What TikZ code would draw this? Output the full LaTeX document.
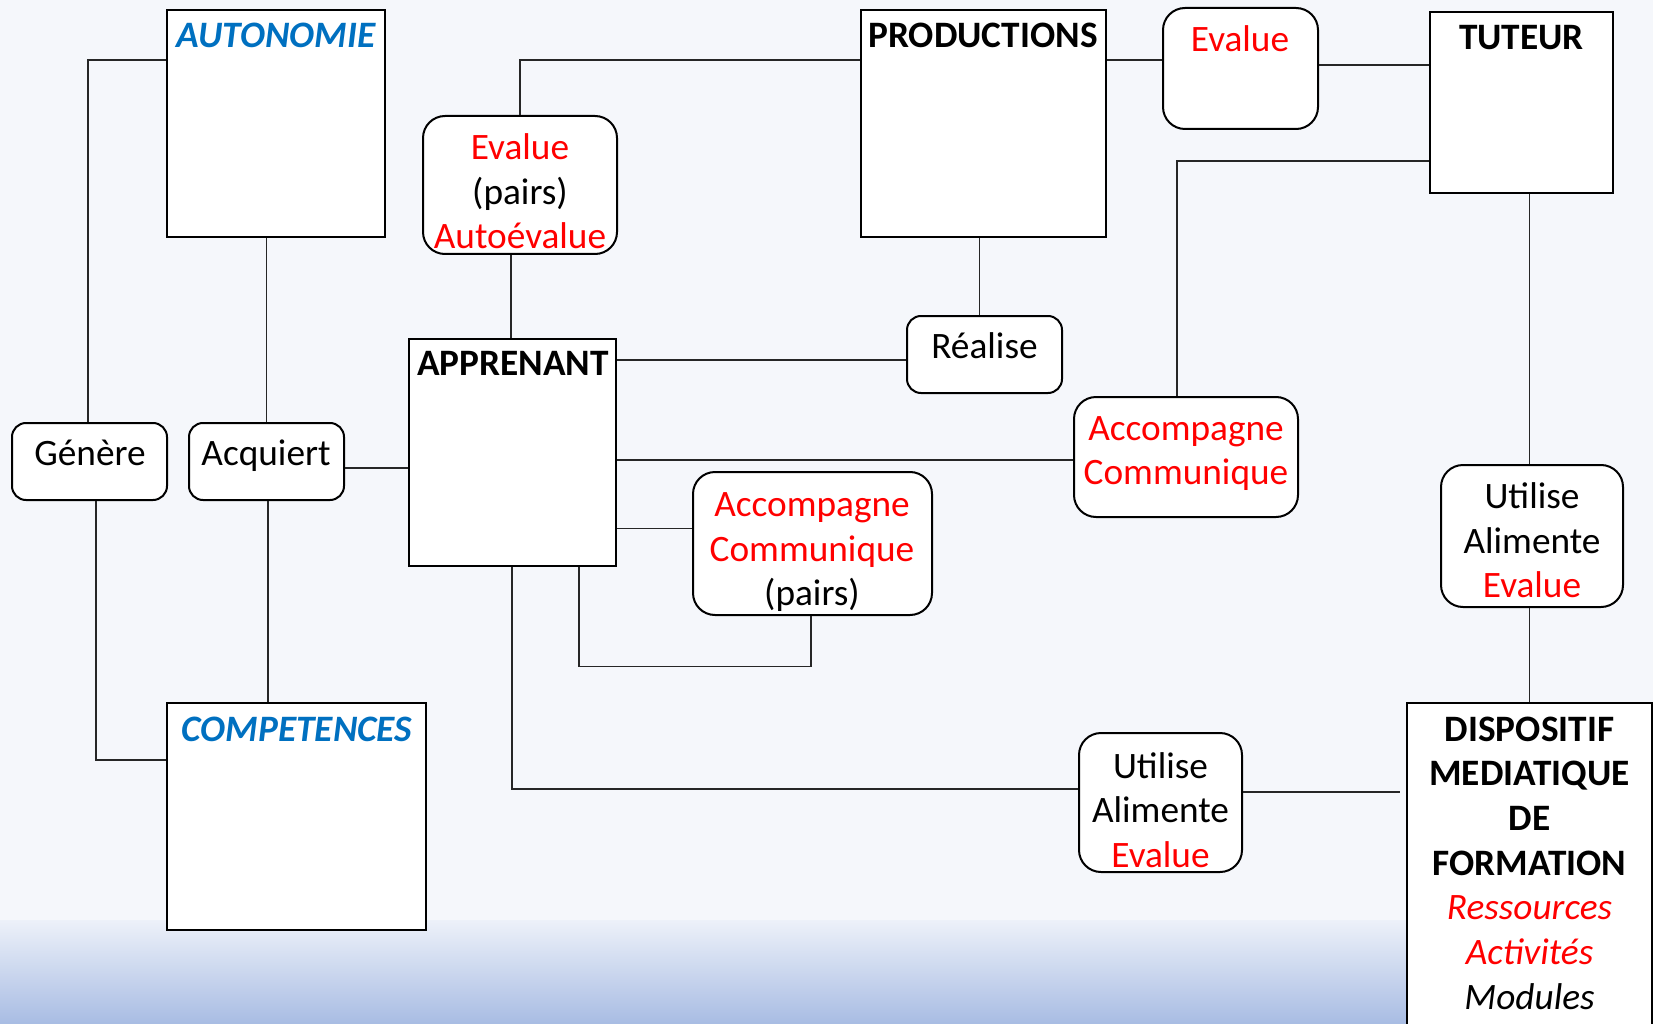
\documentclass[tikz,border=0pt]{standalone}
\usepackage{fontspec}
\setmainfont{Carlito}
\definecolor{bg}{HTML}{F5F7FB}
\definecolor{gtop}{HTML}{EDF1F9}
\definecolor{gbot}{HTML}{A8BCE3}
\definecolor{ablue}{HTML}{0070C0}
\definecolor{ared}{HTML}{FF0000}
\begin{document}
\begin{tikzpicture}[x=1pt,y=-1pt,
  ent/.style={draw, line width=2.5pt, fill=white, inner sep=0pt, rectangle},
  rel/.style={draw, line width=2pt, fill=white, inner sep=0pt, rectangle, rounded corners=14pt},
  relbig/.style={rel, rounded corners=22pt},
  conn/.style={draw=black!85, line width=1.4pt},
  txt/.style={anchor=base, inner sep=0pt, font=\fontsize{37.3}{44.5}\selectfont},
  rtxt/.style={txt, text=ared},
  ttl/.style={anchor=base, inner sep=0pt, font=\fontsize{37.3}{44.5}\selectfont\bfseries},
  bttl/.style={anchor=base, inner sep=0pt, text=ablue, font=\fontsize{37.3}{44.5}\selectfont\bfseries\itshape},
  itr/.style={anchor=base, inner sep=0pt, text=ared, font=\fontsize{37.3}{44.5}\selectfont\itshape},
  itk/.style={anchor=base, inner sep=0pt, font=\fontsize{37.3}{44.5}\selectfont\itshape}
]
\useasboundingbox (0,0) rectangle (1653,1024);
\fill[bg] (0,0) rectangle (1653,1024);
\shade[top color=gtop, bottom color=gbot] (0,920) rectangle (1653,1024);
\clip (0,0) rectangle (1653,1024);

% entity boxes
\node[ent, minimum width=218pt, minimum height=227pt] (auto) at (276,123.5) {};
\node[ent, minimum width=245pt, minimum height=227pt] (prod) at (983.5,123.5) {};
\node[ent, minimum width=183pt, minimum height=181pt] (tut) at (1521.5,102.5) {};
\node[ent, minimum width=207pt, minimum height=227pt] (appr) at (512.5,452.5) {};
\node[ent, minimum width=259pt, minimum height=227pt] (comp) at (296.5,816.5) {};
\node[ent, minimum width=245pt, minimum height=357pt] (disp) at (1529.5,881.5) {};

% relation boxes
\node[relbig, minimum width=194pt, minimum height=138pt] (evp) at (520,185) {};
\node[relbig, minimum width=155pt, minimum height=121pt] (evt) at (1240.5,68.5) {};
\node[rel, minimum width=155pt, minimum height=77pt] (real) at (984.5,354.5) {};
\node[rel, minimum width=155pt, minimum height=77pt] (gen) at (89.5,461.5) {};
\node[rel, minimum width=155pt, minimum height=77pt] (acq) at (266.5,461.5) {};
\node[relbig, minimum width=224pt, minimum height=120pt] (acc1) at (1186,457) {};
\node[relbig, minimum width=239pt, minimum height=143pt] (acc2) at (812.5,543.5) {};
\node[relbig, minimum width=182pt, minimum height=142pt] (uti1) at (1532,536) {};
\node[relbig, minimum width=163pt, minimum height=139pt] (uti2) at (1160.5,802.5) {};

% helper coordinates
\coordinate (c1) at (88,60);
\coordinate (c3) at (0,468);
\coordinate (c4) at (96,760);
\coordinate (c5) at (268,0);
\coordinate (c7) at (511,0);
\coordinate (c9) at (0,65);
\coordinate (c10) at (1177,161);
\coordinate (c11) at (979.5,0);
\coordinate (c12) at (0,360);
\coordinate (c13) at (0,460);
\coordinate (c14) at (0,528.5);
\coordinate (c15) at (579,666.5);
\coordinate (c15b) at (811,666.5);
\coordinate (c16) at (512,789);
\coordinate (e17) at (1400,792);
\coordinate (c18) at (1529.5,0);

% connectors
\draw[conn] (auto.west |- c1) -| (gen.north -| c1);
\draw[conn] (acq.north |- auto.south) -- (acq.north);
\draw[conn] (acq.east |- c3) -- (appr.west |- c3);
\draw[conn] (gen.south -| c4) |- (comp.west |- c4);
\draw[conn] (acq.south -| c5) -- (comp.north -| c5);
\draw[conn] (evp.north) |- (prod.west |- c1);
\draw[conn] (evp.south -| c7) -- (appr.north -| c7);
\draw[conn] (prod.east |- c1) -- (evt.west |- c1);
\draw[conn] (evt.east |- c9) -- (tut.west |- c9);
\draw[conn] (tut.west |- c10) -| (acc1.north -| c10);
\draw[conn] (prod.south -| c11) -- (real.north -| c11);
\draw[conn] (appr.east |- c12) -- (real.west |- c12);
\draw[conn] (appr.east |- c13) -- (acc1.west |- c13);
\draw[conn] (appr.east |- c14) -- (acc2.west |- c14);
\draw[conn] (appr.south -| c15) |- (c15b) -- (acc2.south -| c15b);
\draw[conn] (appr.south -| c16) |- (uti2.west |- c16);
\draw[conn] (uti2.east |- e17) -- (e17);
\draw[conn] (tut.south -| c18) -- (uti1.north -| c18);
\draw[conn] (uti1.south -| c18) -- (disp.north -| c18);

% texts
\node[bttl] (tauto) at (276,48) {AUTONOMIE};
\node[ttl] (tprod) at (983,48) {PRODUCTIONS};
\node[rtxt] (tevt) at (1240,51.5) {Evalue};
\node[ttl] (ttut) at (1521.5,50) {TUTEUR};
\node[rtxt] (tevp1) at (520,160) {Evalue};
\node[txt] (tevp2) at (520,204.5) {(pairs)};
\node[rtxt] (tevp3) at (520,248) {Autoévalue};
\node[ttl] (tappr) at (513,375) {APPRENANT};
\node[txt] (treal) at (984.5,358) {Réalise};
\node[txt] (tgen) at (90,465) {Génère};
\node[txt] (tacq) at (266,465) {Acquiert};
\node[rtxt] (tacc11) at (1186,440) {Accompagne};
\node[rtxt] (tacc12) at (1186,484.5) {Communique};
\node[rtxt] (tacc21) at (812,516.5) {Accompagne};
\node[rtxt] (tacc22) at (812,561) {Communique};
\node[txt] (tacc23) at (812,605.5) {(pairs)};
\node[txt] (tuti11) at (1532,508) {Utilise};
\node[txt] (tuti12) at (1532,553) {Alimente};
\node[rtxt] (tuti13) at (1532,597.5) {Evalue};
\node[txt] (tuti21) at (1160.5,778) {Utilise};
\node[txt] (tuti22) at (1160.5,822.5) {Alimente};
\node[rtxt] (tuti23) at (1160.5,867) {Evalue};
\node[bttl] (tcomp) at (297,741) {COMPETENCES};
\node[ttl] (td1) at (1529.5,741) {DISPOSITIF};
\node[ttl] (td2) at (1529.5,785.6) {MEDIATIQUE};
\node[ttl] (td3) at (1529.5,830) {DE};
\node[ttl] (td4) at (1529.5,875.5) {FORMATION};
\node[itr] (td5) at (1529.5,919.5) {Ressources};
\node[itr] (td6) at (1529.5,964.5) {Activités};
\node[itk] (td7) at (1529.5,1009.5) {Modules};
\end{tikzpicture}
\end{document}
